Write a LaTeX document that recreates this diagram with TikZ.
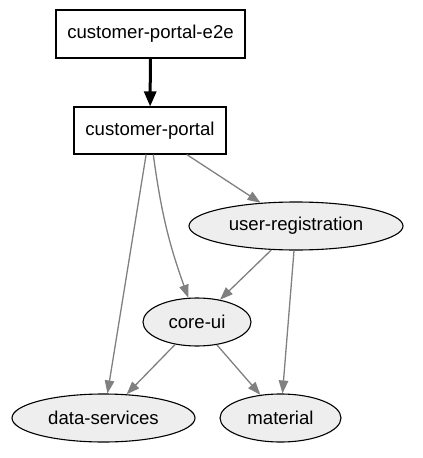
\documentclass[tikz,border=0pt]{standalone}
\usepackage{fontspec}
\setmainfont{Liberation Sans}
\usetikzlibrary{arrows.meta,shapes.geometric}
\definecolor{nodefill}{HTML}{EEEEEE}
\definecolor{edgegray}{HTML}{808080}
\begin{document}
\begin{tikzpicture}[x=1pt,y=-1pt,
  every node/.style={font=\fontsize{18.6}{22}\selectfont, inner sep=0pt},
  boxnode/.style={draw=black, line width=1.1pt, fill=white, rectangle},
  ellnode/.style={draw=black, line width=1.1pt, fill=nodefill, ellipse, minimum height=48pt},
  grayedge/.style={draw=edgegray, line width=1.3pt, -{Triangle[length=13pt,width=9.5pt]}},
  thickedge/.style={draw=black, line width=3pt, -{Triangle[length=15pt,width=12pt]}}]
\useasboundingbox (0,0) rectangle (423,458);
\node[boxnode, minimum width=189pt, minimum height=48pt] (e2e) at (150.5,34) {customer-portal-e2e};
\node[boxnode, minimum width=152pt, minimum height=47pt] (portal) at (150,130.5) {customer-portal};
\node[ellnode, minimum width=214pt] (ur) at (296,226) {user-registration};
\node[ellnode, minimum width=108pt] (core) at (197,322) {core-ui};
\node[ellnode, minimum width=183pt] (ds) at (103.5,418) {data-services};
\node[ellnode, minimum width=121pt] (mat) at (280.5,418) {material};
\draw[thickedge] (e2e) -- (portal);
\draw[grayedge] (portal) -- (ur);
\draw[grayedge] (portal) -- (ds);
\draw[grayedge] (portal) to[bend right=6] (core);
\draw[grayedge] (ur) -- (core);
\draw[grayedge] (ur) -- (mat);
\draw[grayedge] (core) -- (ds);
\draw[grayedge] (core) -- (mat);
\end{tikzpicture}
\end{document}
